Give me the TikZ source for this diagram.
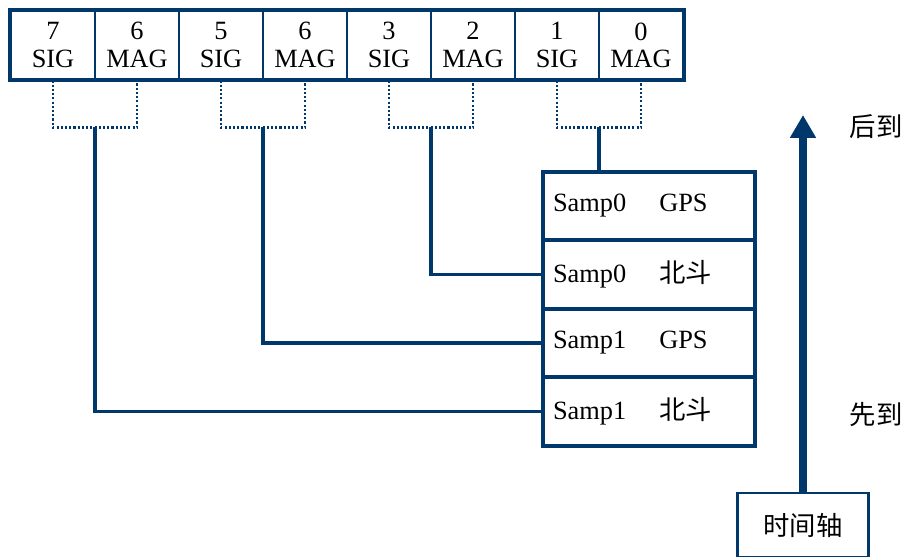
\documentclass[tikz,border=0pt]{standalone}
\usepackage{fontspec}
\setmainfont{Liberation Serif}
\newfontfamily\cjk{Noto Sans CJK SC}
\usetikzlibrary{arrows.meta}
\definecolor{navy}{RGB}{0,56,108}
\begin{document}
\begin{tikzpicture}[x=0.02cm,y=-0.02cm,
  font=\fontsize{15}{15.5}\selectfont,
  cell/.style={draw=navy, line width=1.1pt, minimum width=1.68cm, minimum height=1.38cm, align=center, inner sep=0pt},
  frame/.style={draw=navy, line width=2.3pt},
  sampbox/.style={draw=navy, line width=2.3pt, minimum width=4.24cm, minimum height=1.37cm, text width=3.84cm, align=left},
  dotline/.style={draw=navy, line width=1.3pt, dash pattern=on 1.2pt off 1.2pt},
  wire/.style={draw=navy, line width=1.9pt},
  timebox/.style={draw=navy, line width=1.5pt, minimum width=2.62cm, minimum height=1.28cm},
  timearrow/.style={draw=navy, line width=4pt, -{Triangle[width=14pt,length=13pt]}}]
\clip (0,0) rectangle (904,556);
% register cells
\node[cell] (c7) at (53,45) {7\\SIG};
\node[cell] (c6) at (137,45) {6\\MAG};
\node[cell] (c5) at (221,45) {5\\SIG};
\node[cell] (c4) at (305,45) {6\\MAG};
\node[cell] (c3) at (389,45) {3\\SIG};
\node[cell] (c2) at (473,45) {2\\MAG};
\node[cell] (c1) at (557,45) {1\\SIG};
\node[cell] (c0) at (641,45) {0\\MAG};
\draw[frame] (c7.north west) rectangle (c0.south east);
% sample stack
\node[sampbox] (s0) at (649,206) {\makebox[60.5pt][l]{Samp0}GPS};
\node[sampbox] (s1) at (649,274.5) {\makebox[60.5pt][l]{Samp0}{\cjk 北斗}};
\node[sampbox] (s2) at (649,343) {\makebox[60.5pt][l]{Samp1}GPS};
\node[sampbox] (s3) at (649,411.5) {\makebox[60.5pt][l]{Samp1}{\cjk 北斗}};
% pair joints
\coordinate (j76) at (95,127);
\coordinate (j54) at (263,127);
\coordinate (j32) at (431,127);
\coordinate (j10) at (599,127);
\draw[dotline] (c7.south) -- ++(0,47) -| (c6.south);
\draw[dotline] (c5.south) -- ++(0,47) -| (c4.south);
\draw[dotline] (c3.south) -- ++(0,47) -| (c2.south);
\draw[dotline] (c1.south) -- ++(0,47) -| (c0.south);
\draw[wire] (j10) -- (j10 |- s0.north);
\draw[wire] (j32) |- (s1.west);
\draw[wire] (j54) |- (s2.west);
\draw[wire] (j76) |- (s3.west);
% time axis
\node[timebox] (tbox) at (803,525) {\cjk 时间轴};
\coordinate (tip) at (803,115);
\draw[timearrow] (tbox.north) -- (tip);
\node (late) at (876,127) {\cjk 后到};
\node (early) at (876,415) {\cjk 先到};
\end{tikzpicture}
\end{document}
